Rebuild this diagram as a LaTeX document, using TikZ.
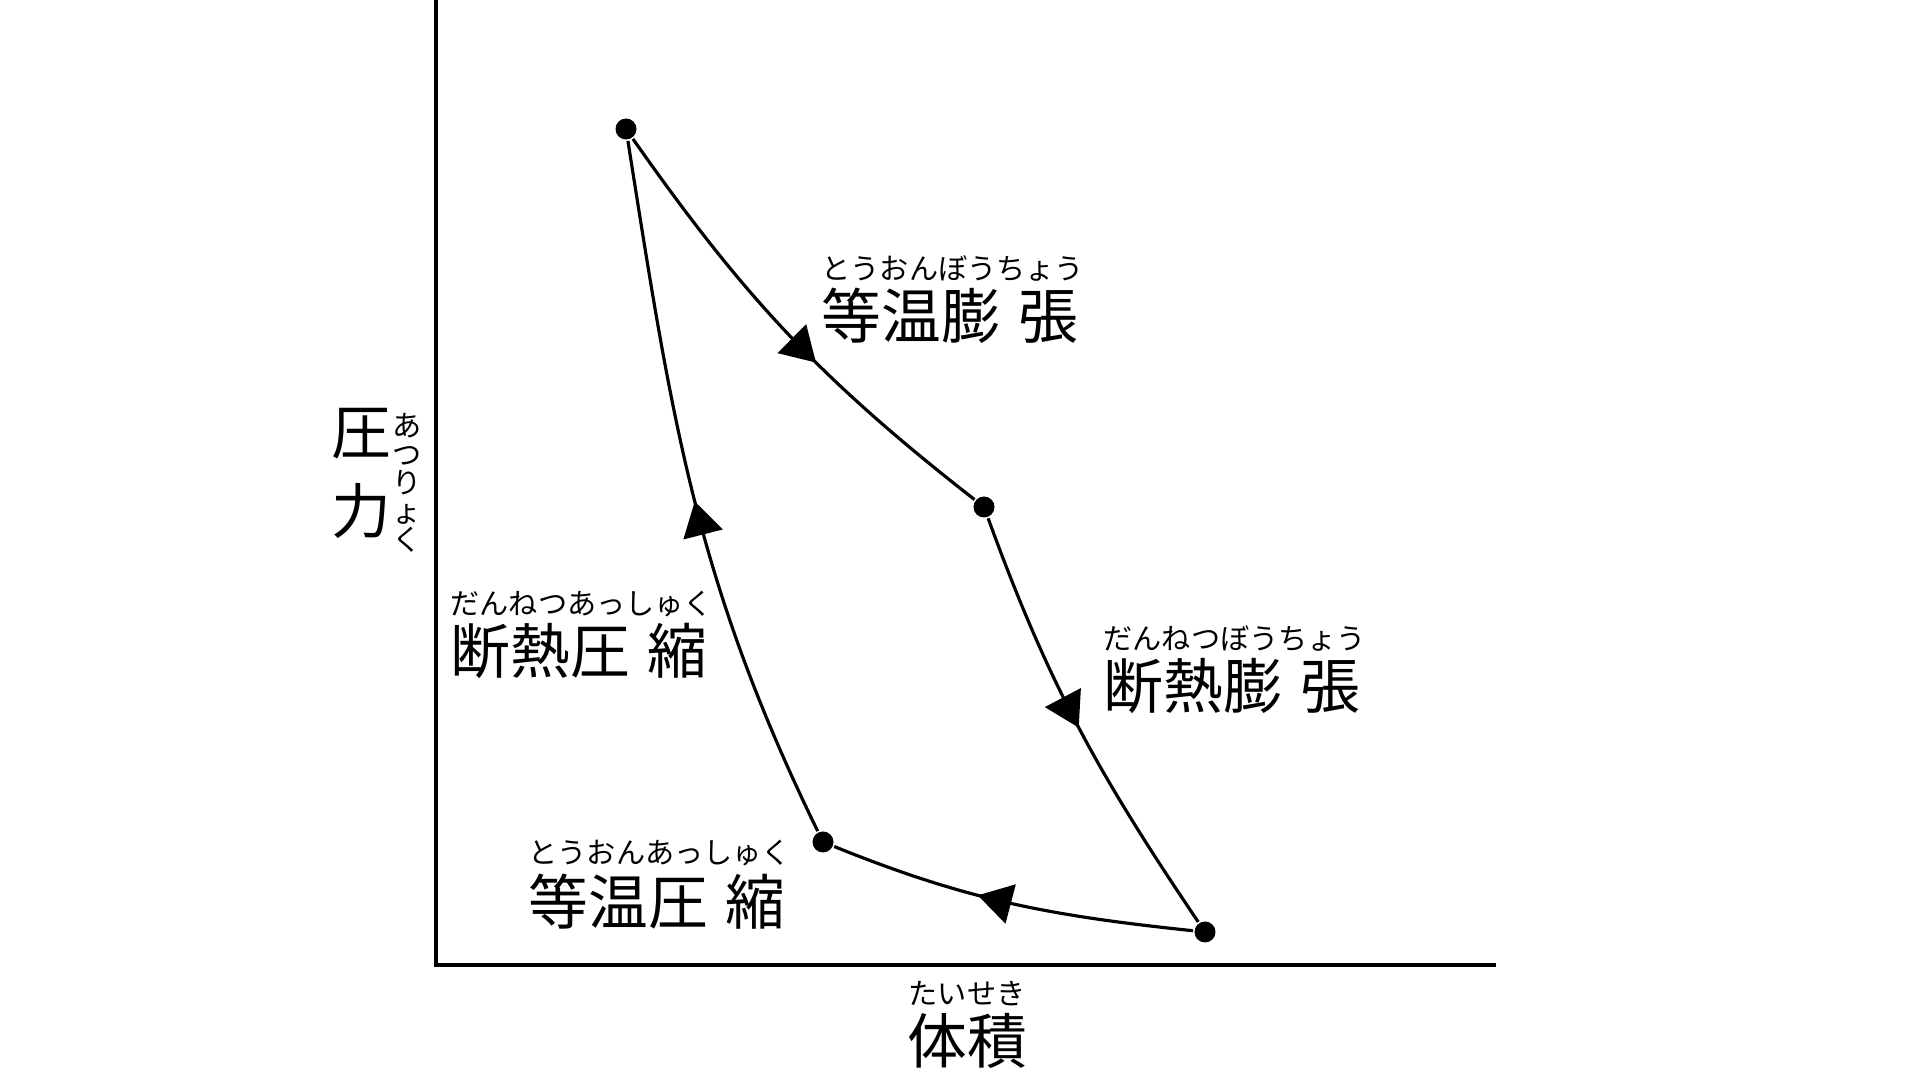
\documentclass[tikz,border=0pt]{standalone}
\usepackage{fontspec}
\newfontfamily\jp{Noto Sans CJK JP}
\usepackage{tikz}
\usetikzlibrary{arrows.meta, positioning, decorations.markings}

\begin{document}
\begin{tikzpicture}[>=latex, line width=0.9pt]
		\tikzstyle{dot} = [fill=black, circle, inner sep=0pt, minimum size=0.21cm]
		\tikzstyle{kanji} = [inner sep=0pt, anchor=west, font=\jp\fontsize{17}{17}\selectfont]
		\tikzstyle{kana} = [inner sep=0pt, anchor=west, font=\jp\fontsize{8.3}{8.3}\selectfont]
		\tikzstyle{flow} = [postaction={decorate}, decoration={markings,
			mark=at position #1 with {\arrow{Triangle[length=3.4mm, width=4mm]}}}]
		
		\useasboundingbox (0, 0) rectangle (19.2, 10.8);
		
		% axes
		\coordinate (O) at (4.36, 1.15);
		\coordinate (ytop) at (4.36, 10.8);
		\coordinate (xend) at (14.96, 1.15);
		\draw (ytop) -- (O) -- (xend);
		
		% states
		\node[dot] at (6.26, 9.51) (s1) {};
		\node[dot] at (9.84, 5.73) (s2) {};
		\node[dot] at (12.05, 1.48) (s3) {};
		\node[dot] at (8.23, 2.38) (s4) {};
		
		\draw[flow=0.58] (s1) to[out=-55, in=142] (s2);
		\draw[flow=0.5] (s2) to[out=-70, in=124] (s3);
		\draw[flow=0.59] (s3) to[out=174, in=-22] (s4);
		\draw[flow=0.49] (s4) to[out=116, in=-81] (s1);
		
		% labels
		\node[kanji] at (8.20, 7.64) (isoexp) {等温膨\hspace{0.3em}張};
		\node[kana] at (8.20, 8.11) (isoexpR) {とうおんぼうちょう};
		\node[kanji] at (11.02, 3.94) (adiexp) {断熱膨\hspace{0.3em}張};
		\node[kana] at (11.02, 4.41) (adiexpR) {だんねつぼうちょう};
		\node[kanji] at (4.49, 4.29) (adicmp) {断熱圧\hspace{0.3em}縮};
		\node[kana] at (4.49, 4.76) (adicmpR) {だんねつあっしゅく};
		\node[kanji] at (5.27, 1.78) (isocmp) {等温圧\hspace{0.3em}縮};
		\node[kana] at (5.27, 2.27) (isocmpR) {とうおんあっしゅく};
		
		\node[kanji, anchor=center] at (9.67, 0.39) (vol) {体積};
		\node[kana, anchor=center] at (9.67, 0.86) (volR) {たいせき};
		
		\node[kanji, anchor=center, align=center, font=\jp\fontsize{17}{22.5}\selectfont] at (3.61, 6.07) (pres) {圧\\力};
		\node[kana, anchor=center, align=center, font=\jp\fontsize{8.3}{8.1}\selectfont] at (4.07, 5.97) (presR) {あ\\つ\\り\\ょ\\く};
\end{tikzpicture}
\end{document}
